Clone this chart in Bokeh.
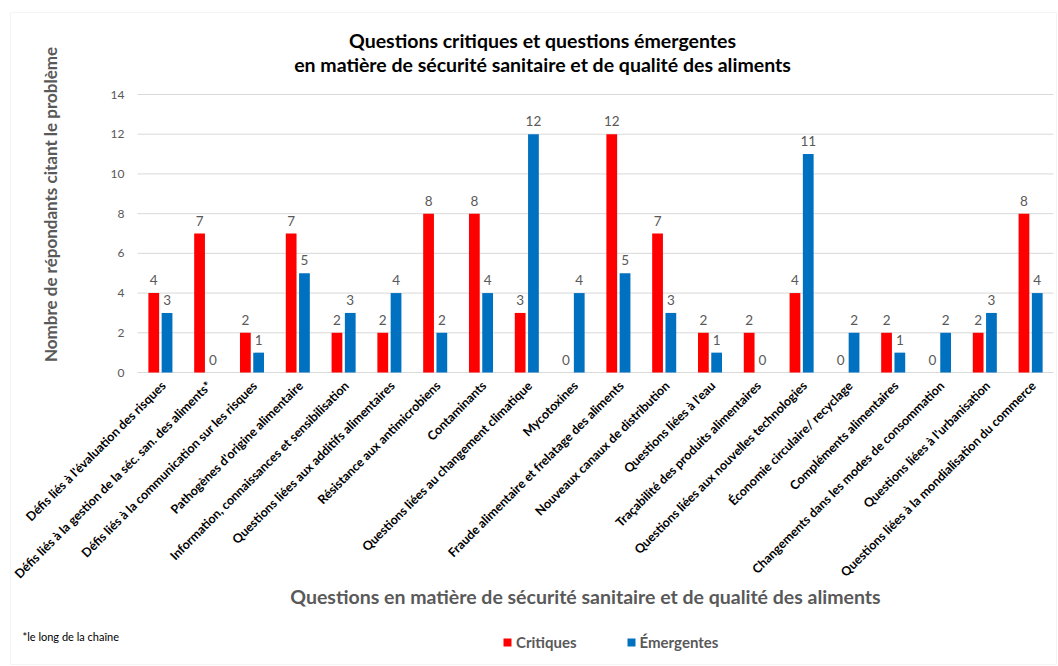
import math
from bokeh.plotting import figure
from bokeh.models import (ColumnDataSource, Range1d, Label, Legend, LegendItem,
                          BoxAnnotation)
from bokeh.transform import dodge
from bokeh.core.properties import value
from bokeh.embed import file_html
from bokeh.resources import INLINE

categories = [
    "Défis liés à l'évaluation des risques",
    "Défis liés à la gestion de la séc. san. des aliments*",
    "Défis liés à la communication sur les risques",
    "Pathogènes d'origine alimentaire",
    "Information, connaissances et sensibilisation",
    "Questions liées aux additifs alimentaires",
    "Résistance aux antimicrobiens",
    "Contaminants",
    "Questions liées au changement climatique",
    "Mycotoxines",
    "Fraude alimentaire et frelatage des aliments",
    "Nouveaux canaux de distribution",
    "Questions liées à l'eau",
    "Traçabilité des produits alimentaires",
    "Questions liées aux nouvelles technologies",
    "Économie circulaire/ recyclage",
    "Compléments alimentaires",
    "Changements dans les modes de consommation",
    "Questions liées à l'urbanisation",
    "Questions liées à la mondialisation du commerce",
]
critiques = [4, 7, 2, 7, 2, 2, 8, 8, 3, 0, 12, 7, 2, 2, 4, 0, 2, 0, 2, 8]
emergentes = [3, 0, 1, 5, 3, 4, 2, 4, 12, 4, 5, 3, 1, 0, 11, 2, 1, 2, 3, 4]
y_ticks = [0, 2, 4, 6, 8, 10, 12, 14]

title_lines = ["Questions critiques et questions émergentes",
               "en matière de sécurité sanitaire et de qualité des aliments"]
x_title = "Questions en matière de sécurité sanitaire et de qualité des aliments"
y_title = "Nombre de répondants citant le problème"
footnote = "*le long de la chaîne"
series_names = ["Critiques", "Émergentes"]
RED = "#FF0000"
BLUE = "#0070C0"
GRAY = "#595959"
GRID = "#D9D9D9"
FONT = "Lato"

W, H = 1058, 666
# plot-area placement on the page (pixels)
FL, FR, FT, FB = 137, 1053, 94, 372
YMAX = 14
ncat = len(categories)

def dx(px):
    return (px - FL) / (FR - FL) * ncat

def dy(py):
    return (FB - py) / (FB - FT) * YMAX

src = ColumnDataSource(dict(
    cat=categories, xpos=[i + 0.5 for i in range(ncat)],
    crit=critiques, emer=emergentes,
    crit_t=[str(v) for v in critiques], emer_t=[str(v) for v in emergentes],
))
tick_src = ColumnDataSource(dict(y=y_ticks, t=[str(v) for v in y_ticks]))

p = figure(width=W, height=H, x_range=Range1d(dx(0), dx(W)),
           y_range=Range1d(dy(H), dy(0)), output_backend="svg",
           toolbar_location=None, x_axis_location=None, y_axis_location=None,
           min_border=0)
p.outline_line_color = None
p.background_fill_color = "white"
p.border_fill_color = "white"
p.xgrid.visible = False
p.ygrid.visible = False

# chart border
p.add_layout(BoxAnnotation(left=dx(10), right=dx(1056), top=dy(12), bottom=dy(664),
                           fill_alpha=0, line_color=GRID, line_width=1))

# horizontal gridlines spanning the category area
p.segment(x0=0, x1=ncat, y0="y", y1="y", source=tick_src, line_color=GRID,
          line_width=1)
# y tick labels
p.text(x=0, y="y", text="t", source=tick_src, x_offset=-13, text_align="right",
       text_baseline="middle", text_font=value(FONT), text_font_size="12px",
       text_color=GRAY)

r_crit = p.vbar(x=dodge("xpos", -0.145), top="crit", width=0.235,
                source=src, fill_color=RED, line_color=None)
r_emer = p.vbar(x=dodge("xpos", 0.145), top="emer", width=0.235,
                source=src, fill_color=BLUE, line_color=None)
for col, off in (("crit", -0.145), ("emer", 0.145)):
    p.text(x=dodge("xpos", off), y=col, text=col + "_t", source=src,
           text_align="center", text_baseline="bottom", y_offset=-8,
           text_font=value(FONT), text_font_size="13.5px", text_color=GRAY)

# category labels, rotated 45 degrees
p.text(x="xpos", y=0, text="cat", source=src, angle=math.pi / 4,
       x_offset=3, y_offset=11, text_align="right", text_baseline="middle",
       text_font=value(FONT), text_font_style="bold", text_font_size="12.5px",
       text_color="black")

# titles
for i, t in enumerate(title_lines):
    p.add_layout(Label(x=dx(542), y=dy(40 + 24 * i), text=t, text_align="center",
                       text_baseline="middle", text_font=FONT, text_font_style="bold",
                       text_font_size="19.5px", text_color="black"))
p.add_layout(Label(x=dx(585), y=dy(596), text=x_title, text_align="center",
                   text_baseline="middle", text_font=FONT, text_font_style="bold",
                   text_font_size="19.5px", text_color=GRAY))
p.add_layout(Label(x=dx(50), y=dy(204), text=y_title, text_align="center",
                   text_baseline="middle", angle=math.pi / 2, text_font=FONT,
                   text_font_style="bold", text_font_size="17px", text_color=GRAY))
p.add_layout(Label(x=dx(22), y=dy(636), text=footnote, text_align="left",
                   text_baseline="middle", text_font=FONT, text_font_size="11px",
                   text_color="black"))

# legend
legend = Legend(items=[LegendItem(label=series_names[0], renderers=[r_crit]),
                       LegendItem(label=series_names[1], renderers=[r_emer])],
                orientation="horizontal", location=(502, H - 652),
                label_text_font=FONT, label_text_font_style="bold",
                label_text_font_size="15px", label_text_color=GRAY,
                glyph_width=10, glyph_height=10, label_height=20,
                label_standoff=4, spacing=49, padding=0, margin=0,
                border_line_color=None, background_fill_alpha=0)
p.add_layout(legend, "center")

open("out.html", "w").write(file_html(p, INLINE))
